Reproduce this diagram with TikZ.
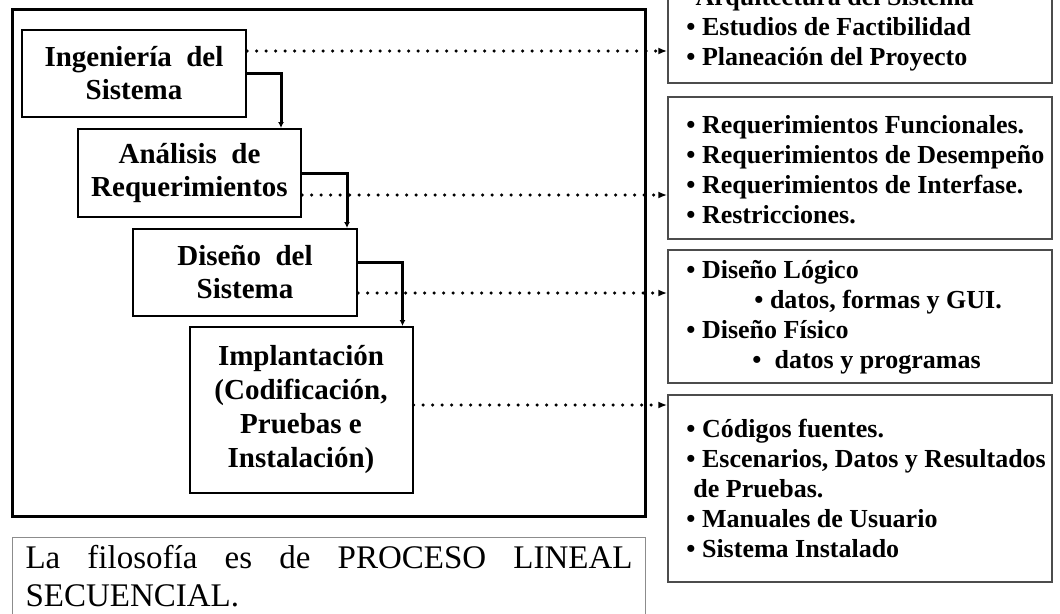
\documentclass[tikz,border=0pt]{standalone}
\usepackage{fontspec}
\setmainfont{Liberation Serif}
\usetikzlibrary{arrows.meta}

\tikzset{
  fase/.style={draw, line width=2pt, align=center, inner sep=0pt,
    font=\bfseries\fontsize{29}{33}\selectfont},
  caja/.style={draw=black!70, line width=1.5pt, minimum width=384pt, inner sep=0pt},
  lista/.style={anchor=west, align=left, inner sep=0pt,
    font=\bfseries\fontsize{26}{30}\selectfont},
  flujo/.style={line width=3pt, -{Latex[length=6pt,width=6pt]}},
  punteada/.style={line width=3.5pt, line cap=round, dash pattern=on 0pt off 9.5pt,
    -{Latex[length=9pt,width=7pt]}},
}

\begin{document}
\begin{tikzpicture}[x=1pt,y=-1pt]
  \useasboundingbox (0,0) rectangle (1060,613);
  \clip (0,0) rectangle (1060,613);

  %%%%% fases %%%%%
  \draw[line width=3pt] (12,9) rectangle (645,516);

  \node[fase, minimum width=224pt, minimum height=87pt] (ing) at (134,73.5) {Ingeniería\ \ del\\Sistema};
  \node[fase, minimum width=223pt, minimum height=88pt] (ana) at (189.5,173) {Análisis\ \ de\\Requerimientos};
  \node[fase, minimum width=224pt, minimum height=87pt] (dis) at (245,272.5) {Diseño\ \ del\\Sistema};
  \node[fase, minimum width=223pt, minimum height=166pt,
    font=\bfseries\fontsize{29}{34}\selectfont] (imp) at (301,410)
    {Implantación\\(Codificación,\\Pruebas e\\Instalación)};

  \draw[flujo] (ing.east) -| ([xshift=-21pt]ana.north east);
  \draw[flujo] (ana.east) -| ([xshift=-11pt]dis.north east);
  \draw[flujo] ([yshift=10pt]dis.east) -| ([xshift=-11pt]imp.north east);

  %%%%% productos %%%%%
  \node[caja, minimum height=113pt] (arq) at (860,26.5) {};
  \node[caja, minimum height=142pt] (req) at (860,168) {};
  \node[caja, minimum height=133pt] (dlog) at (860,316.5) {};
  \node[caja, minimum height=187pt] (cod) at (860,488.5) {};

  \node[lista] (arqtxt) at ([xshift=19pt,yshift=-3pt]arq.west)
    {\textbullet Arquitectura del Sistema\\
     \textbullet\ Estudios de Factibilidad\\
     \textbullet\ Planeación del Proyecto};
  \node[lista] (reqtxt) at ([xshift=19pt,yshift=-2pt]req.west)
    {\textbullet\ Requerimientos Funcionales.\\
     \textbullet\ Requerimientos de Desempeño\\
     \textbullet\ Requerimientos de Interfase.\\
     \textbullet\ Restricciones.};
  \node[lista] (dlogtxt) at ([xshift=19pt,yshift=-1pt]dlog.west)
    {\textbullet\ Diseño Lógico\\
     \hspace*{68pt}\textbullet\ datos, formas y GUI.\\
     \textbullet\ Diseño Físico\\
     \hspace*{66pt}\textbullet\ \ datos y programas};
  \node[lista] (codtxt) at ([xshift=19pt]cod.west)
    {\textbullet\ Códigos fuentes.\\
     \textbullet\ Escenarios, Datos y Resultados\\
     \hspace*{7pt}de Pruebas.\\
     \textbullet\ Manuales de Usuario\\
     \textbullet\ Sistema Instalado};

  \draw[punteada] ([yshift=22.5pt]ing.east) coordinate (p1) -- (p1 -| arq.west);
  \draw[punteada] ([yshift=-22pt]ana.east) coordinate (p2) -- (p2 -| req.west);
  \draw[punteada] ([yshift=-20.5pt]dis.east) coordinate (p3) -- (p3 -| dlog.west);
  \draw[punteada] ([yshift=5pt]imp.east) coordinate (p4) -- (p4 -| cod.west);

  %%%%% nota %%%%%
  \node[draw=black!45, line width=1pt, anchor=north west, text width=607pt,
    inner xsep=13pt, inner ysep=8pt, align=justify,
    font=\fontsize{33}{38}\selectfont] (nota) at (12,537)
    {La filosofía es de PROCESO LINEAL \mbox{SECUENCIAL.}};
\end{tikzpicture}
\end{document}
